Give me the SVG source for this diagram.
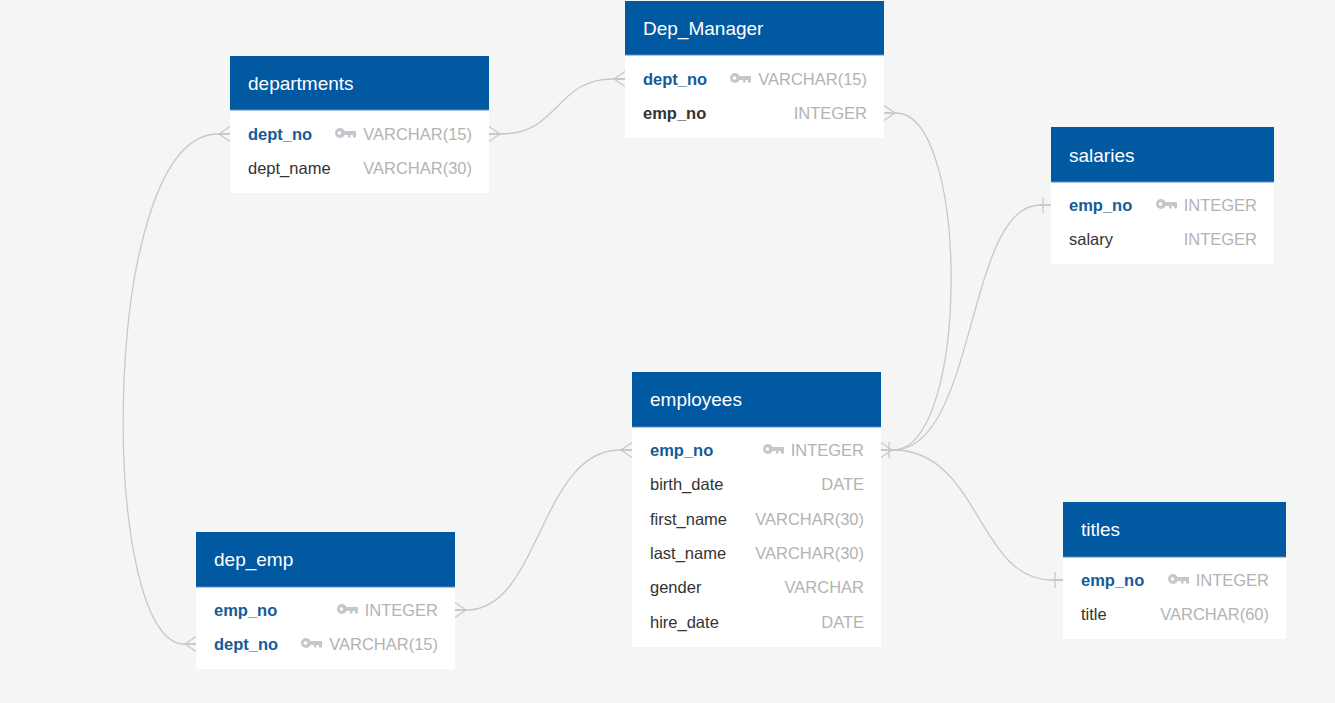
<svg xmlns="http://www.w3.org/2000/svg" width="1335" height="703" viewBox="0 0 1335 703">
<style>
.bg{fill:#f4f5f5}
.hd{fill:#0159a1}
.sep{stroke:#5a8fc6;stroke-width:1}
.body{fill:#ffffff}
.title{font-family:"Liberation Sans",Arial,sans-serif;font-size:19px;fill:#ffffff}
.pk{font-family:"Liberation Sans",Arial,sans-serif;font-size:16.5px;font-weight:bold;fill:#165a99}
.bd{font-family:"Liberation Sans",Arial,sans-serif;font-size:16.5px;font-weight:bold;fill:#333333}
.fn{font-family:"Liberation Sans",Arial,sans-serif;font-size:16.5px;fill:#333333}
.ty{font-family:"Liberation Sans",Arial,sans-serif;font-size:16.5px;fill:#b3b3b3;text-anchor:end}
.conn{fill:none;stroke:#c8c8c8;stroke-width:1.3}
.keyi{fill:#c4c7cb}
</style>
<defs>
<g id="key">
<circle cx="5" cy="0" r="5" class="keyi"/>
<circle cx="4.5" cy="0" r="1.8" fill="#ffffff"/>
<rect x="8" y="-2" width="13" height="4" class="keyi"/>
<rect x="13" y="1" width="2.5" height="3.5" class="keyi"/>
<rect x="18" y="1" width="3" height="3.5" class="keyi"/>
</g>
<marker id="many" markerUnits="userSpaceOnUse" markerWidth="14" markerHeight="18" viewBox="0 0 14 18" refX="12" refY="9" orient="auto-start-reverse">
<path d="M1,9 L12,1.5 M1,9 L12,16.5 M0,9 L12,9" fill="none" stroke="#c8c8c8" stroke-width="1.3"/>
</marker>
<marker id="one" markerUnits="userSpaceOnUse" markerWidth="14" markerHeight="18" viewBox="0 0 14 18" refX="12" refY="9" orient="auto-start-reverse">
<path d="M0,9 L12,9 M4,1 L4,17" fill="none" stroke="#c8c8c8" stroke-width="1.3"/>
</marker>
</defs>
<rect class="bg" x="0" y="0" width="1335" height="703"/>

<g id="connectors">
<path class="conn" d="M 230 134 L 218 134 C 98 134, 98 644, 184 644 L 196 644" marker-start="url(#many)" marker-end="url(#many)"/>
<path class="conn" d="M 489 134 L 501 134 C 560 134, 555 79, 613 79 L 625 79" marker-start="url(#many)" marker-end="url(#many)"/>
<path class="conn" d="M 884 113 L 896 113 C 970 113, 970 450, 893 450 L 881 450" marker-start="url(#many)" marker-end="url(#many)"/>
<path class="conn" d="M 1051 205 L 1040 205 C 966 205, 977 450, 893 450 L 881 450" marker-start="url(#one)" marker-end="url(#one)"/>
<path class="conn" d="M 1063 580 L 1052 580 C 977 580, 980 450, 893 450 L 881 450" marker-start="url(#one)"/>
<path class="conn" d="M 632 450 L 620 450 C 540 450, 540 610, 467 610 L 455 610" marker-start="url(#many)" marker-end="url(#many)"/>
</g>

<g id="departments">
<rect class="body" x="230" y="110" width="259" height="83"/>
<rect class="hd" x="230" y="56" width="259" height="54"/>
<line class="sep" x1="230" y1="110" x2="489" y2="110"/>
<text class="title" x="248" y="90">departments</text>
<text class="pk" x="248" y="140">dept_no</text>
<use href="#key" x="335" y="133"/>
<text class="ty" x="472" y="140">VARCHAR(15)</text>
<text class="fn" x="248" y="174">dept_name</text>
<text class="ty" x="472" y="174">VARCHAR(30)</text>
</g>

<g id="Dep_Manager">
<rect class="body" x="625" y="55" width="259" height="83"/>
<rect class="hd" x="625" y="1" width="259" height="54"/>
<line class="sep" x1="625" y1="55" x2="884" y2="55"/>
<text class="title" x="643" y="35">Dep_Manager</text>
<text class="pk" x="643" y="85">dept_no</text>
<use href="#key" x="730" y="78"/>
<text class="ty" x="867" y="85">VARCHAR(15)</text>
<text class="bd" x="643" y="119">emp_no</text>
<text class="ty" x="867" y="119">INTEGER</text>
</g>

<g id="salaries">
<rect class="body" x="1051" y="182" width="223" height="82"/>
<rect class="hd" x="1051" y="127" width="223" height="55"/>
<line class="sep" x1="1051" y1="182" x2="1274" y2="182"/>
<text class="title" x="1069" y="162">salaries</text>
<text class="pk" x="1069" y="211">emp_no</text>
<use href="#key" x="1156" y="204"/>
<text class="ty" x="1257" y="211">INTEGER</text>
<text class="fn" x="1069" y="245">salary</text>
<text class="ty" x="1257" y="245">INTEGER</text>
</g>

<g id="employees">
<rect class="body" x="632" y="427" width="249" height="220"/>
<rect class="hd" x="632" y="372" width="249" height="55"/>
<line class="sep" x1="632" y1="427" x2="881" y2="427"/>
<text class="title" x="650" y="406">employees</text>
<text class="pk" x="650" y="456">emp_no</text>
<use href="#key" x="763" y="449"/>
<text class="ty" x="864" y="456">INTEGER</text>
<text class="fn" x="650" y="490">birth_date</text>
<text class="ty" x="864" y="490">DATE</text>
<text class="fn" x="650" y="525">first_name</text>
<text class="ty" x="864" y="525">VARCHAR(30)</text>
<text class="fn" x="650" y="559">last_name</text>
<text class="ty" x="864" y="559">VARCHAR(30)</text>
<text class="fn" x="650" y="593">gender</text>
<text class="ty" x="864" y="593">VARCHAR</text>
<text class="fn" x="650" y="628">hire_date</text>
<text class="ty" x="864" y="628">DATE</text>
</g>

<g id="dep_emp">
<rect class="body" x="196" y="587" width="259" height="82"/>
<rect class="hd" x="196" y="532" width="259" height="55"/>
<line class="sep" x1="196" y1="587" x2="455" y2="587"/>
<text class="title" x="214" y="566">dep_emp</text>
<text class="pk" x="214" y="616">emp_no</text>
<use href="#key" x="337" y="609"/>
<text class="ty" x="438" y="616">INTEGER</text>
<text class="pk" x="214" y="650">dept_no</text>
<use href="#key" x="301" y="643"/>
<text class="ty" x="438" y="650">VARCHAR(15)</text>
</g>

<g id="titles">
<rect class="body" x="1063" y="557" width="223" height="82"/>
<rect class="hd" x="1063" y="502" width="223" height="55"/>
<line class="sep" x1="1063" y1="557" x2="1286" y2="557"/>
<text class="title" x="1081" y="536">titles</text>
<text class="pk" x="1081" y="586">emp_no</text>
<use href="#key" x="1168" y="579"/>
<text class="ty" x="1269" y="586">INTEGER</text>
<text class="fn" x="1081" y="620">title</text>
<text class="ty" x="1269" y="620">VARCHAR(60)</text>
</g>
</svg>
